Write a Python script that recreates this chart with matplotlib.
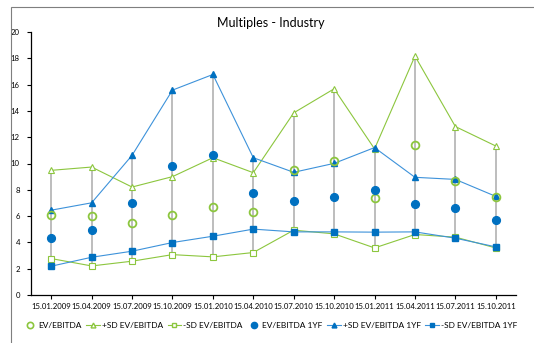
import matplotlib
matplotlib.use("Agg")
import matplotlib.pyplot as plt
from matplotlib.patches import Rectangle
from matplotlib.lines import Line2D
import numpy as np

plt.rcParams['font.family'] = ['Lato', 'DejaVu Sans']

dates = ["15.01.2009", "15.04.2009", "15.07.2009", "15.10.2009", "15.01.2010", "15.04.2010",
         "15.07.2010", "15.10.2010", "15.01.2011", "15.04.2011", "15.07.2011", "15.10.2011"]

ev_ebitda = [6.12, 6.02, 5.49, 6.07, 6.73, 6.33, 9.48, 10.22, 7.40, 11.44, 8.69, 7.47]
ev_ebitda_plus = [9.48, 9.73, 8.21, 9.00, 10.44, 9.30, 13.85, 15.68, 11.11, 18.17, 12.81, 11.33]
ev_ebitda_minus = [2.77, 2.21, 2.57, 3.07, 2.90, 3.23, 4.93, 4.65, 3.58, 4.60, 4.40, 3.58]

ev_1yf = [4.37, 4.96, 7.01, 9.81, 10.65, 7.78, 7.12, 7.42, 8.01, 6.91, 6.61, 5.67]
ev_1yf_plus = [6.45, 7.01, 10.62, 15.58, 16.77, 10.44, 9.33, 10.01, 11.21, 8.95, 8.79, 7.50]
ev_1yf_minus = [2.19, 2.87, 3.33, 3.99, 4.47, 5.01, 4.80, 4.80, 4.78, 4.80, 4.32, 3.66]

green = "#8CC63E"
blue_mk = "#0070C0"
blue_ln = "#3D92DA"
gray = "#ABABAB"

W, H = 534, 343
fig = plt.figure(figsize=(W / 100, H / 100), dpi=100)

# chart frame
fig.patches.append(Rectangle((11 / W, -0.05), 1.2, 1 - 7 / H + 0.05, transform=fig.transFigure,
                             fill=False, edgecolor="#7F7F7F", linewidth=0.8))

ax = fig.add_axes([31 / W, 1 - 295 / H, 485 / W, 263 / H])
x = np.arange(len(dates))

# high-low lines
series_all = np.array([ev_ebitda, ev_ebitda_plus, ev_ebitda_minus, ev_1yf, ev_1yf_plus, ev_1yf_minus])
ax.vlines(x, series_all.min(axis=0), series_all.max(axis=0), color=gray, linewidth=1.1, zorder=1)

ax.plot(x, ev_ebitda_plus, color=green, lw=0.8, marker="^", ms=4.3, mfc="white", mec=green, mew=0.8, zorder=3)
ax.plot(x, ev_ebitda_minus, color=green, lw=0.8, marker="s", ms=4.0, mfc="white", mec=green, mew=0.8, zorder=3)
ax.plot(x, ev_1yf_plus, color=blue_ln, lw=0.8, marker="^", ms=4.3, mfc=blue_mk, mec=blue_mk, zorder=4)
ax.plot(x, ev_1yf_minus, color=blue_ln, lw=0.8, marker="s", ms=4.0, mfc=blue_mk, mec=blue_mk, zorder=4)
ax.plot(x, ev_ebitda, linestyle="none", marker="o", ms=5.6, mfc="none", mec=green, mew=1.3, zorder=5)
ax.plot(x, ev_1yf, linestyle="none", marker="o", ms=5.6, mfc=blue_mk, mec=blue_mk, zorder=5)

ax.set_xlim(-0.5, 11.5)
ax.set_ylim(0, 20)
ax.set_yticks(range(0, 21, 2))
ax.set_xticks(x)
ax.set_xticklabels(dates)
ax.tick_params(axis="both", labelsize=5.6, colors="black", length=3, width=0.8, direction="out", pad=3)
ax.tick_params(axis="y", pad=5)
for s in ("top", "right"):
    ax.spines[s].set_visible(False)
for s in ("left", "bottom"):
    ax.spines[s].set_linewidth(0.9)

fig.text(271 / W, 1 - 23 / H, "Multiples - Industry", ha="center", va="center", fontsize=9)

handles = [
    Line2D([], [], linestyle="none", marker="o", ms=4.5, mfc="none", mec=green, mew=1.2),
    Line2D([], [], color=green, lw=0.8, marker="^", ms=3.5, mfc="white", mec=green),
    Line2D([], [], color=green, lw=0.8, marker="s", ms=3.5, mfc="white", mec=green),
    Line2D([], [], linestyle="none", marker="o", ms=4.5, mfc=blue_mk, mec=blue_mk),
    Line2D([], [], color=blue_ln, lw=0.8, marker="^", ms=3.5, mfc=blue_mk, mec=blue_mk),
    Line2D([], [], color=blue_ln, lw=0.8, marker="s", ms=3.5, mfc=blue_mk, mec=blue_mk),
]
labels = ["EV/EBITDA", "+SD EV/EBITDA", "-SD EV/EBITDA", "EV/EBITDA 1YF", "+SD EV/EBITDA 1YF", "-SD EV/EBITDA 1YF"]
fig.legend(handles, labels, loc="center", bbox_to_anchor=(270 / W, 1 - 325 / H), ncol=6, frameon=False,
           fontsize=6.0, handlelength=1.6, handletextpad=0.25, columnspacing=0.55, borderpad=0.2)

fig.savefig("out.png", dpi=100)
